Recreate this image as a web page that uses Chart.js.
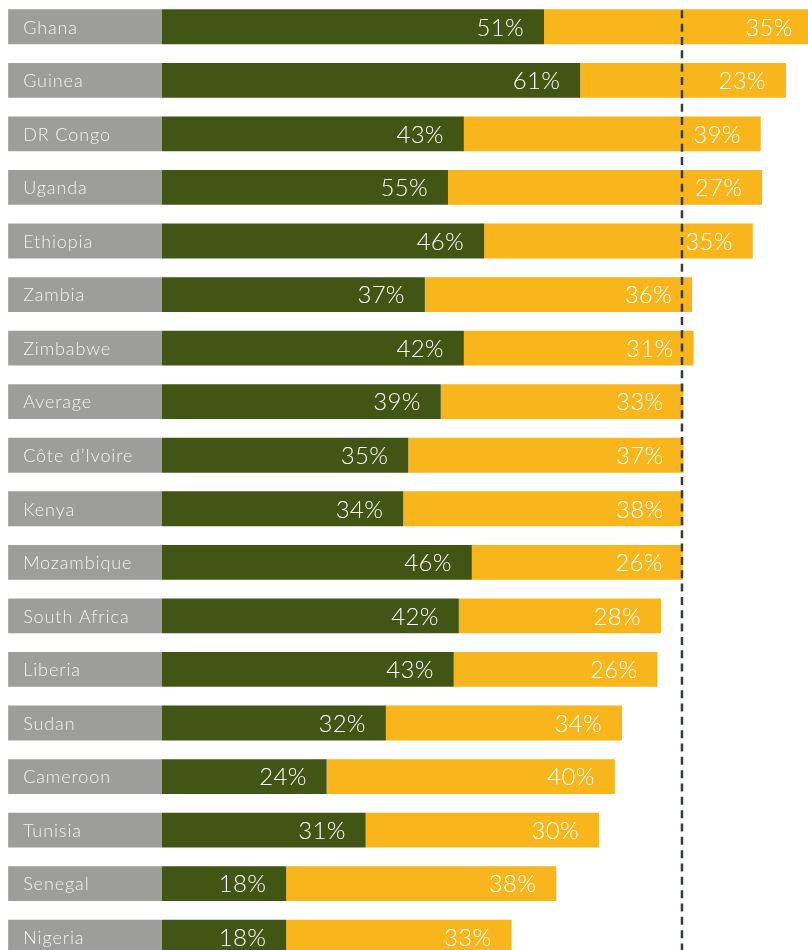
<!DOCTYPE html>
<html>
<head>
<meta charset="utf-8">
<script src="https://cdn.jsdelivr.net/npm/chart.js@4.4.1/dist/chart.umd.min.js"></script>
<style>
html,body{margin:0;padding:0;width:808px;height:950px;overflow:hidden;background:#ffffff;}
#wrap{position:relative;width:808px;height:964px;}
</style>
</head>
<body>
<div id="wrap"><canvas id="c"></canvas></div>
<script>
// Categories (top to bottom)
const categories = ["Ghana","Guinea","DR Congo","Uganda","Ethiopia","Zambia","Zimbabwe","Average","Côte d’Ivoire","Kenya","Mozambique","South Africa","Liberia","Sudan","Cameroon","Tunisia","Senegal","Nigeria"];

// Bar lengths as drawn in the picture (percentage units)
const greenValues  = [52.9,57.9,41.8,39.6,44.6,36.4,41.8,38.6,34.1,33.4,42.9,41.1,40.4,31.0,22.8,28.2,17.2,17.2];
const yellowValues = [37.2,28.5,41.1,43.5,37.2,37.0,31.8,33.6,38.1,38.8,29.2,28.0,28.2,32.7,39.9,32.3,37.4,31.2];

// Printed value labels
const greenLabels  = ["51%","61%","43%","55%","46%","37%","42%","39%","35%","34%","46%","42%","43%","32%","24%","31%","18%","18%"];
const yellowLabels = ["35%","23%","39%","27%","35%","36%","31%","33%","37%","38%","26%","28%","26%","34%","40%","30%","38%","33%"];

// Label-box column (drawn as a bar to the left of zero) and the average reference line
const labelBox = categories.map(() => -21.3);
const averageTotal = 72;

const FONT_FAMILY = "Lato, 'Open Sans', sans-serif";

const labelPlugin = {
  id: 'labelPlugin',
  afterDatasetsDraw(chart) {
    const ctx = chart.ctx;
    const xs = chart.scales.x;
    const area = chart.chartArea;

    // dashed average line
    const meta0 = chart.getDatasetMeta(0);
    const first = meta0.data[0];
    const topY = first.y - first.height / 2 + 1;
    const lx = xs.getPixelForValue(averageTotal);
    ctx.save();
    ctx.strokeStyle = '#333a42';
    ctx.lineWidth = 2.5;
    ctx.setLineDash([8, 5.33]);
    ctx.beginPath();
    ctx.moveTo(lx, topY);
    ctx.lineTo(lx, area.bottom);
    ctx.stroke();
    ctx.restore();

    ctx.save();
    ctx.textBaseline = 'middle';
    // category names in grey boxes
    ctx.font = "300 18px " + FONT_FAMILY;
    ctx.fillStyle = '#f2f2f2';
    ctx.textAlign = 'left';
    try { ctx.letterSpacing = '0.9px'; } catch (e) {}
    meta0.data.forEach((el, i) => {
      const left = Math.min(el.x, el.base);
      ctx.fillText(categories[i], left + 15, el.y + 1);
    });
    try { ctx.letterSpacing = '0.3px'; } catch (e) {}
    // value labels
    ctx.font = "300 24px " + FONT_FAMILY;
    ctx.fillStyle = '#ffffff';
    ctx.textAlign = 'right';
    [[1, greenLabels], [2, yellowLabels]].forEach(([di, labs]) => {
      chart.getDatasetMeta(di).data.forEach((el, i) => {
        const right = Math.max(el.x, el.base);
        ctx.fillText(labs[i], right - 20, el.y + 1);
      });
    });
    ctx.restore();
  }
};

new Chart(document.getElementById('c'), {
  type: 'bar',
  data: {
    labels: categories,
    datasets: [
      { data: labelBox, backgroundColor: '#9d9d9b' },
      { data: greenValues, backgroundColor: '#415615' },
      { data: yellowValues, backgroundColor: '#f9b51c' }
    ]
  },
  options: {
    indexAxis: 'y',
    responsive: true,
    maintainAspectRatio: false,
    animation: false,
    devicePixelRatio: 1,
    layout: { padding: 0 },
    datasets: { bar: { barPercentage: 0.65, categoryPercentage: 1, borderWidth: 0 } },
    scales: {
      x: { stacked: true, display: false, min: -22.43, max: 89.45 },
      y: { stacked: true, display: false }
    },
    plugins: { legend: { display: false }, tooltip: { enabled: false } }
  },
  plugins: [labelPlugin]
});
</script>
</body>
</html>
